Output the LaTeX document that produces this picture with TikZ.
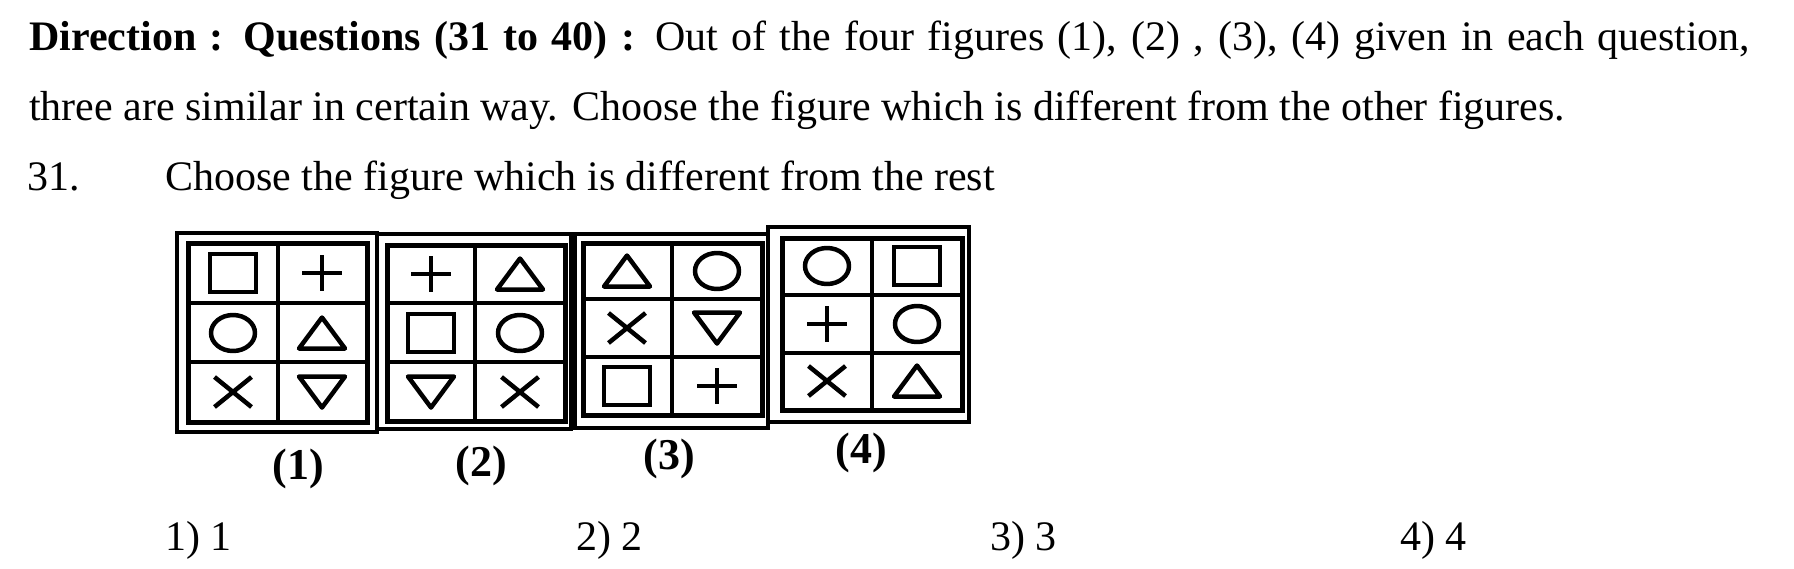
\documentclass[tikz,border=0pt]{standalone}
\usepackage{fontspec}
\setmainfont{Liberation Serif}
\begin{document}
\begin{tikzpicture}[x=1pt,y=-1pt,
  txt/.style={anchor=base west,inner sep=0pt,font=\fontsize{42}{50}\selectfont},
  lbl/.style={anchor=base,inner sep=0pt,font=\fontsize{44}{50}\selectfont\bfseries},
  frame/.style={draw=black,line width=4pt},
  gridbox/.style={draw=black,line width=5pt},
  grid/.style={draw=black,line width=4pt},
  sym/.style={draw=black,line width=4.5pt,line join=round},
  thinsym/.style={draw=black,line width=3.5pt},
  pics/sqsym/.style={code={\draw[sym,line join=miter] (-23,-19) rectangle (23,19);}},
  pics/circsym/.style={code={\draw[sym] (0,0) ellipse [x radius=22,y radius=18];}},
  pics/utri/.style={code={\draw[sym] (0,-15.5) -- (23,15.5) -- (-23,15.5) -- cycle;}},
  pics/dtri/.style={code={\draw[sym] (0,15.5) -- (23,-15.5) -- (-23,-15.5) -- cycle;}},
  pics/plussym/.style={code={\draw[thinsym] (-20,0) -- (20,0) (0,-18) -- (0,18);}},
  pics/crosssym/.style={code={\draw[sym] (-18.5,-15) -- (18.5,15) (-18.5,15) -- (18.5,-15);}},
]
\useasboundingbox (0,0) rectangle (1794,568);
\fill[white] (0,0) rectangle (1794,568);

% text
\node[txt] (l1) at (29,50) {\makebox[1721pt][s]{\textbf{Direction : Questions (31 to 40) :} Out of the four figures (1), (2) , (3), (4) given in each question,}};
\node[txt] (l2) at (29,120) {three are similar in certain way. Choose the figure which is different from the other figures.};
\node[txt] (qn) at (27,190) {31.};
\node[txt] (q) at (165,190) {Choose the figure which is different from the rest};

% figure 1
\draw[frame] (177,233) rectangle (377,432);
\draw[gridbox] (188,243) rectangle (367,422);
\draw[grid] (278,243) -- (278,422) (188,303) -- (367,303) (188,362) -- (367,362);
\pic at (233,273) {sqsym};
\pic at (322,273) {plussym};
\pic at (233,333) {circsym};
\pic at (322,333) {utri};
\pic at (233,392) {crosssym};
\pic at (322,392) {dtri};
\node[lbl] (c1) at (298,479) {(1)};

% figure 2
\draw[frame] (377,234) rectangle (571,429);
\draw[gridbox] (387,245) rectangle (565,421);
\draw[grid] (475,245) -- (475,421) (387,303) -- (565,303) (387,362) -- (565,362);
\pic at (431,274) {plussym};
\pic at (520,274) {utri};
\pic at (431,333) {sqsym};
\pic at (520,333) {circsym};
\pic at (431,392) {dtri};
\pic at (520,392) {crosssym};
\node[lbl] (c2) at (481,476) {(2)};

% figure 3
\draw[frame] (575,234) rectangle (768,428);
\draw[gridbox] (583,243) rectangle (762,415);
\draw[grid] (672,243) -- (672,415) (583,299) -- (762,299) (583,357) -- (762,357);
\pic at (627,271) {utri};
\pic at (717,271) {circsym};
\pic at (627,328) {crosssym};
\pic at (717,328) {dtri};
\pic at (627,386) {sqsym};
\pic at (717,386) {plussym};
\node[lbl] (c3) at (669,469) {(3)};

% figure 4
\draw[frame] (768,227) rectangle (969,422);
\draw[gridbox] (782,238) rectangle (962,410);
\draw[grid] (872,238) -- (872,410) (782,295) -- (962,295) (782,353) -- (962,353);
\pic at (827,266) {circsym};
\pic at (917,266) {sqsym};
\pic at (827,324) {plussym};
\pic at (917,324) {circsym};
\pic at (827,381) {crosssym};
\pic at (917,381) {utri};
\node[lbl] (c4) at (861,463) {(4)};

% answers
\node[txt] (a1) at (165,550) {1) 1};
\node[txt] (a2) at (576,550) {2) 2};
\node[txt] (a3) at (990,550) {3) 3};
\node[txt] (a4) at (1400,550) {4) 4};
\end{tikzpicture}
\end{document}
